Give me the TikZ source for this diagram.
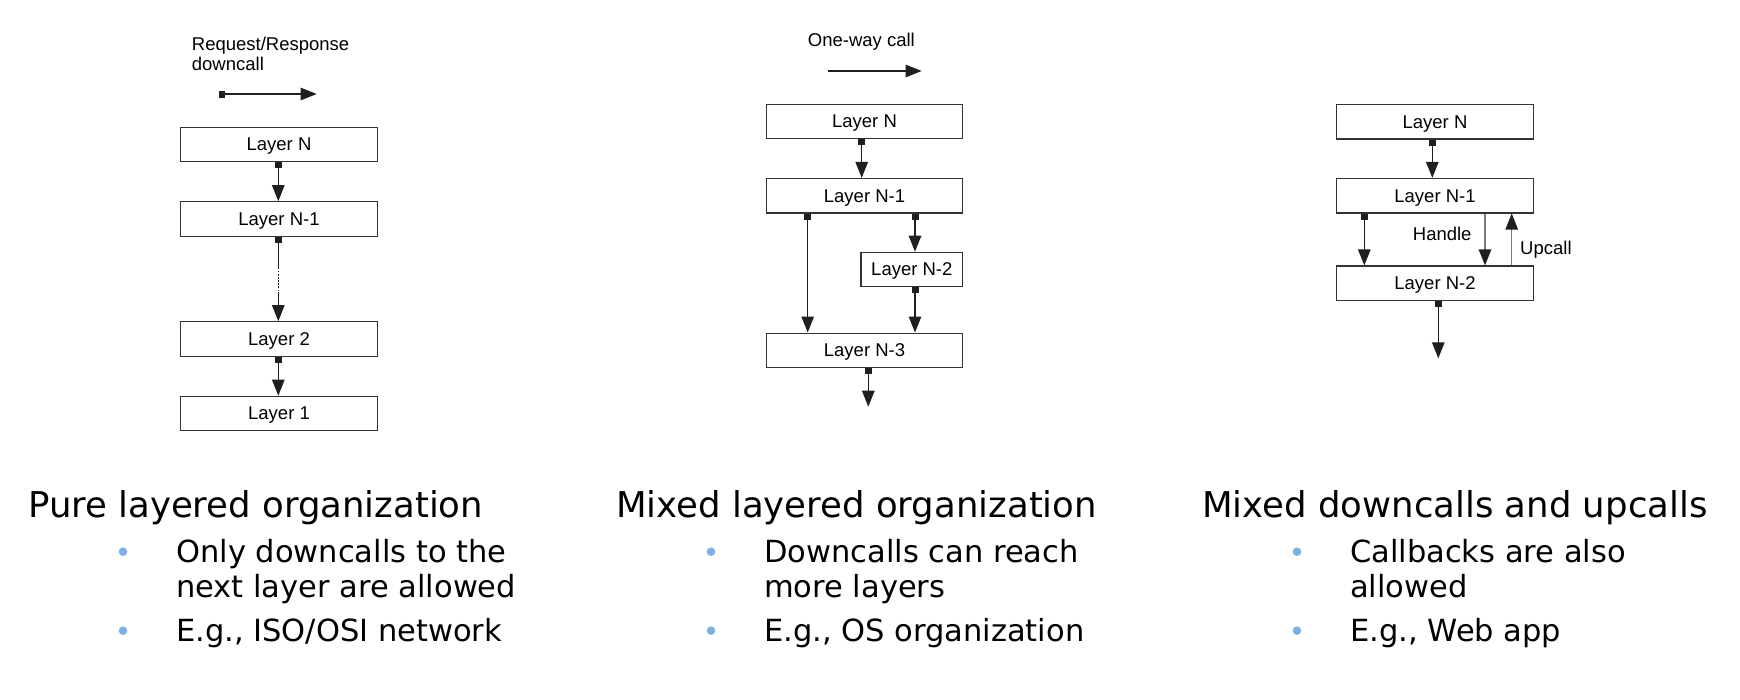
\documentclass[tikz,border=0pt]{standalone}
\usepackage{fontspec}
\setmainfont{DejaVu Sans}
\newfontfamily\diagfont{Liberation Sans}
\usetikzlibrary{arrows.meta}
\definecolor{boxline}{HTML}{333333}
\definecolor{bulblue}{HTML}{7DAFE0}
\definecolor{lightline}{HTML}{7A7A7A}
\begin{document}
\begin{tikzpicture}[x=1pt,y=-1pt,
  layer/.style={draw=boxline, line width=1.2pt, minimum width=196.4pt, minimum height=34.4pt, inner sep=0pt, text depth=0pt, font=\diagfont\fontsize{18.5}{20}\selectfont},
  lbl/.style={inner sep=0pt, font=\diagfont\fontsize{18.5}{20}\selectfont},
  call/.style={line width=1.2pt, draw=black!88, {Square[length=6pt,width=7pt]}-{Triangle[length=16pt,width=12.5pt]}},
  callnotip/.style={line width=1.2pt, draw=black!88, {Square[length=6pt,width=7pt]}-},
  plain/.style={line width=1.2pt, draw=black!88, -{Triangle[length=16pt,width=12.5pt]}},
  greycall/.style={line width=1.2pt, draw=lightline, -{Triangle[length=16pt,width=12.5pt,color=black!88]}},
  dotline/.style={line width=1.2pt, draw=black!88, dash pattern=on 1.5pt off 1.6pt},
  title/.style={inner sep=0pt, font=\fontsize{35.5}{40}\selectfont},
  item/.style={inner sep=0pt, font=\fontsize{30.5}{35}\selectfont},
  bul/.style={circle, fill=bulblue, inner sep=0pt, minimum size=8.6pt}
]
\useasboundingbox (0,0) rectangle (1740,699);

% ---------- left diagram ----------
\node[lbl, anchor=base west] (rq1) at (191.7,50.7) {Request/Response};
\node[lbl, anchor=base west] (rq2) at (191.7,70) {downcall};
\coordinate (ra1) at (218.5,94);
\coordinate (ra2) at (316.7,94);
\draw[call] (ra1) -- (ra2);

\node[layer] (aN)  at (279,144.5) {Layer N};
\node[layer] (aN1) at (279,219)   {Layer N-1};
\node[layer] (a2)  at (279,339)   {Layer 2};
\node[layer] (a1)  at (279,413.5) {Layer 1};

\draw[call] ([xshift=-0.7pt]aN.south) -- ([xshift=-0.7pt]aN1.north);
\path ([xshift=-0.7pt]aN1.south) ++(0,31) coordinate (d1) ++(0,24) coordinate (d2);
\draw[callnotip] ([xshift=-0.7pt]aN1.south) -- (d1);
\draw[dotline] (d1) -- (d2);
\draw[plain] (d2) -- ([xshift=-0.7pt]a2.north);
\draw[call] ([xshift=-0.7pt]a2.south) -- ([xshift=-0.7pt]a1.north);

% ---------- middle diagram ----------
\node[lbl, anchor=base west] (ow) at (807.7,46.7) {One-way call};
\coordinate (ob1) at (828.3,71);
\coordinate (ob2) at (921.7,71);
\draw[plain] (ob1) -- (ob2);

\node[layer] (bN)  at (864.5,121.5) {Layer N};
\node[layer] (bN1) at (864.5,195.7) {Layer N-1};
\node[layer, minimum width=101.7pt] (bN2) at (911.85,269.5) {Layer N-2};
\node[layer] (bN3) at (864.5,350.3) {Layer N-3};
\coordinate (bend) at (868.3,406.7);

\draw[call] ([xshift=-2.8pt]bN.south) -- ([xshift=-2.8pt]bN1.north);
\draw[call] ([xshift=-56.8pt]bN1.south) -- ([xshift=-56.8pt]bN3.north);
\draw[call] ([xshift=50.5pt]bN1.south) -- ([xshift=3.15pt]bN2.north);
\draw[call] ([xshift=3.15pt]bN2.south) -- ([xshift=50.5pt]bN3.north);
\draw[call] ([xshift=3.8pt]bN3.south) -- (bend);

% ---------- right diagram ----------
\node[layer] (cN)  at (1435,121.7) {Layer N};
\node[layer] (cN1) at (1435,195.7) {Layer N-1};
\node[layer] (cN2) at (1435,283.2) {Layer N-2};
\coordinate (cend) at (1438.3,358.3);

\draw[call] ([xshift=-2.7pt]cN.south) -- ([xshift=-2.7pt]cN1.north);
\draw[call] ([xshift=-70.7pt]cN1.south) -- ([xshift=-70.7pt]cN2.north);
\draw[greycall] ([xshift=50pt]cN1.south) -- ([xshift=50pt]cN2.north);
\draw[greycall] ([xshift=76.7pt]cN2.north) -- ([xshift=76.7pt]cN1.south);
\draw[call] ([xshift=3.3pt]cN2.south) -- (cend);
\node[lbl, anchor=base west] (hd) at (1412.7,240.7) {Handle};
\node[lbl, anchor=base west] (uc) at (1520,254) {Upcall};

% ---------- texts ----------
\node[title, anchor=base west] (T1) at (28,517.3) {Pure layered organization};
\node[bul] (b11) at (123,551.7) {};
\node[item, anchor=base west] (i11) at (176,562.3) {Only downcalls to the};
\node[item, anchor=base west] (i12) at (176,597.7) {next layer are allowed};
\node[bul] (b12) at (123,630.7) {};
\node[item, anchor=base west] (i13) at (176,641) {E.g., ISO/OSI network};

\node[title, anchor=base west] (T2) at (616,517.3) {Mixed layered organization};
\node[bul] (b21) at (711,551.7) {};
\node[item, anchor=base west] (i21) at (764,562.3) {Downcalls can reach};
\node[item, anchor=base west] (i22) at (764,597.7) {more layers};
\node[bul] (b22) at (711,630.7) {};
\node[item, anchor=base west] (i23) at (764,641) {E.g., OS organization};

\node[title, anchor=base west] (T3) at (1202,517.3) {Mixed downcalls and upcalls};
\node[bul] (b31) at (1297,551.7) {};
\node[item, anchor=base west] (i31) at (1350,562.3) {Callbacks are also};
\node[item, anchor=base west] (i32) at (1350,597.7) {allowed};
\node[bul] (b32) at (1297,630.7) {};
\node[item, anchor=base west] (i33) at (1350,641) {E.g., Web app};
\end{tikzpicture}
\end{document}
